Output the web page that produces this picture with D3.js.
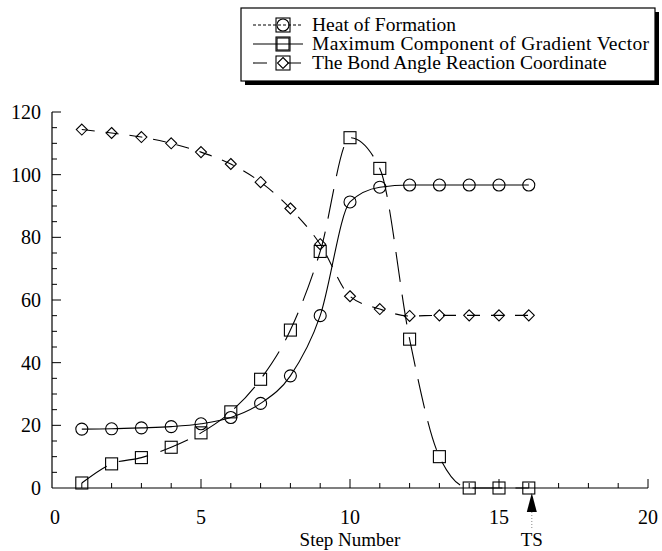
<!DOCTYPE html>
<html>
<head>
<meta charset="utf-8">
<script src="https://cdn.jsdelivr.net/npm/d3@7"></script>
<style>
  body { margin: 0; background: #fff; }
  svg { display: block; font-family: "Liberation Serif", "DejaVu Serif", serif; }
</style>
</head>
<body>
<svg id="chart" width="662" height="551"></svg>
<script>
const steps = [1, 2, 3, 4, 5, 6, 7, 8, 9, 10, 11, 12, 13, 14, 15, 16]
const heatOfFormation = [18.8, 18.9, 19.2, 19.6, 20.5, 22.5, 27, 35.8, 55, 91.3, 96, 96.7, 96.7, 96.7, 96.7, 96.7]
const maxGradient = [1.6, 7.7, 9.7, 13, 17.6, 24.3, 34.7, 50.4, 75.5, 111.8, 102, 47.5, 10, 0, 0, 0]
const bondAngle = [114.4, 113.3, 112, 110, 107.2, 103.4, 97.6, 89.2, 77.8, 61.2, 57.1, 54.9, 55.1, 55.1, 55.1, 55.1]
const seriesNames = ['Heat of Formation', 'Maximum Component of Gradient Vector', 'The Bond Angle Reaction Coordinate']
const xTicks = [0, 5, 10, 15, 20]
const yTicks = [0, 20, 40, 60, 80, 100, 120]
const tsStep = 16

const margin = { top: 112, right: 14, bottom: 63, left: 52 }
const svg = d3.select('#chart')
const width = +svg.attr('width')
const height = +svg.attr('height')
const innerWidth = width - margin.left - margin.right
const innerHeight = height - margin.top - margin.bottom

const x = d3.scaleLinear().domain([0, 20]).range([0, innerWidth])
const y = d3.scaleLinear().domain([0, 120]).range([innerHeight, 0])

const g = svg.append('g').attr('transform', `translate(${margin.left},${margin.top})`)

// axes: ticks point inward, long ticks at labelled values
const xAxis = g.append('g').attr('transform', `translate(0,${innerHeight})`)
xAxis.append('line').attr('x1', 0).attr('x2', innerWidth).attr('stroke', '#000').attr('stroke-width', 1.2)
xAxis.selectAll('line.tick').data(d3.range(1, 21)).enter().append('line')
  .attr('class', 'tick')
  .attr('x1', d => x(d)).attr('x2', d => x(d))
  .attr('y1', 0).attr('y2', d => d % 5 === 0 ? -9 : -5)
  .attr('stroke', '#000').attr('stroke-width', 1)
xAxis.selectAll('text').data(xTicks).enter().append('text')
  .attr('x', d => x(d) + (d === 0 ? 3 : 0)).attr('y', 36)
  .attr('text-anchor', 'middle')
  .attr('font-size', 20)
  .text(d => d)

const yAxis = g.append('g')
yAxis.append('line').attr('y1', 0).attr('y2', innerHeight).attr('stroke', '#000').attr('stroke-width', 1.2)
yAxis.selectAll('line.tick').data(d3.range(5, 125, 5)).enter().append('line')
  .attr('class', 'tick')
  .attr('y1', d => y(d)).attr('y2', d => y(d))
  .attr('x1', 0).attr('x2', d => d % 20 === 0 ? 9 : 5)
  .attr('stroke', '#000').attr('stroke-width', 1)
yAxis.selectAll('text').data(yTicks).enter().append('text')
  .attr('x', -11).attr('y', d => y(d) + 7)
  .attr('text-anchor', 'end')
  .attr('font-size', 20)
  .text(d => d)

g.append('text')
  .attr('x', x(10)).attr('y', innerHeight + 58)
  .attr('text-anchor', 'middle')
  .attr('font-size', 19)
  .text('Step Number')

// TS arrow
const tsX = x(tsStep) + 3
g.append('path')
  .attr('d', `M${tsX},${innerHeight + 5} L${tsX - 5},${innerHeight + 24} L${tsX + 5},${innerHeight + 24} Z`)
  .attr('fill', '#000')
g.append('line')
  .attr('x1', tsX).attr('x2', tsX)
  .attr('y1', innerHeight + 24).attr('y2', innerHeight + 42)
  .attr('stroke', '#888').attr('stroke-width', 1).attr('stroke-dasharray', '1,2')
g.append('text')
  .attr('x', tsX).attr('y', innerHeight + 58)
  .attr('text-anchor', 'middle')
  .attr('font-size', 19)
  .text('TS')

const line = d3.line().x(d => x(d[0])).y(d => y(d[1])).curve(d3.curveMonotoneX)

const series = [
  { values: heatOfFormation, dash: null, legendDash: '3,2', symbol: 'circle' },
  { values: maxGradient, dash: '30,13', legendDash: null, symbol: 'square' },
  { values: bondAngle, dash: '13,11', legendDash: '14,20', symbol: 'diamond' }
]

const drawMarker = (sel, symbol) => {
  if (symbol === 'circle') {
    sel.append('circle').attr('r', 6)
  } else if (symbol === 'square') {
    sel.append('rect').attr('x', -6).attr('y', -6).attr('width', 12).attr('height', 12)
  } else {
    sel.append('path').attr('d', 'M0,-5.5 L5.5,0 L0,5.5 L-5.5,0 Z')
  }
  sel.selectAll('*').attr('fill', 'none').attr('stroke', '#000').attr('stroke-width', 1.1)
}

series.forEach(s => {
  const pts = steps.map((st, i) => [st, s.values[i]])
  g.append('path')
    .datum(pts)
    .attr('d', line)
    .attr('fill', 'none')
    .attr('stroke', '#000')
    .attr('stroke-width', 1.1)
    .attr('stroke-dasharray', s.dash)
  g.selectAll(null).data(pts).enter().append('g')
    .attr('transform', d => `translate(${x(d[0])},${y(d[1])})`)
    .each(function () { drawMarker(d3.select(this), s.symbol) })
})

// legend box with drop shadow
const legend = svg.append('g').attr('transform', 'translate(241,8)')
const lw = 414
const lh = 73
legend.append('rect').attr('x', 4).attr('y', 4).attr('width', lw).attr('height', lh).attr('fill', '#000')
legend.append('rect').attr('x', 0).attr('y', 0).attr('width', lw).attr('height', lh)
  .attr('fill', '#fff').attr('stroke', '#000').attr('stroke-width', 1.2)

series.forEach((s, i) => {
  const ly = 17 + i * 19
  const row = legend.append('g').attr('transform', `translate(0,${ly})`)
  row.append('line')
    .attr('x1', 12).attr('x2', 62)
    .attr('stroke', '#000').attr('stroke-width', 1.1)
    .attr('stroke-dasharray', s.legendDash)
  const m = row.append('g').attr('transform', 'translate(42,0)')
  m.append('rect').attr('x', -7).attr('y', -7).attr('width', 14).attr('height', 14).attr('fill', '#fff')
  drawMarker(m, s.symbol)
  row.append('text')
    .attr('x', 71).attr('y', 6)
    .attr('font-size', 19.5)
    .attr('textLength', i === 1 ? 337 : null)
    .text(seriesNames[i])
})
</script>
</body>
</html>
